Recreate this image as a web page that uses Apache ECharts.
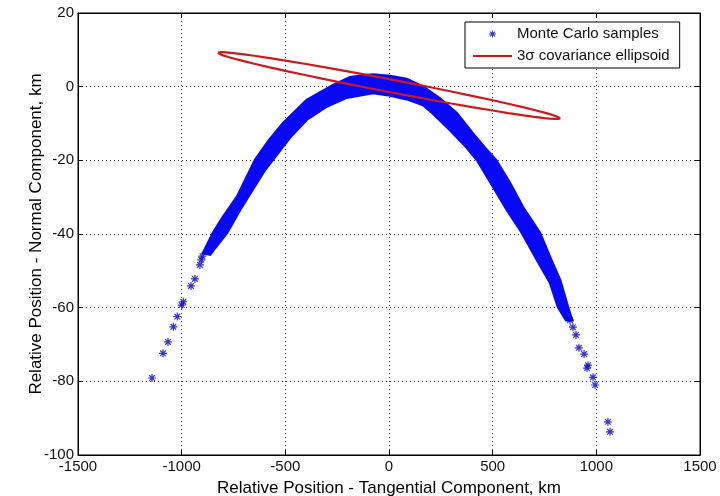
<!DOCTYPE html>
<html><head><meta charset="utf-8">
<script src="https://cdn.jsdelivr.net/npm/echarts@6/dist/echarts.min.js"></script>
<style>html,body{margin:0;padding:0;background:#fff}#c{width:720px;height:496px}</style>
</head><body><div id="c"></div>
<script>
// Tick values
const xTicks = [-1500, -1000, -500, 0, 500, 1000, 1500];
const yTicks = [-100, -80, -60, -40, -20, 0, 20];

// Dense Monte Carlo band: outer (upper) edge, left to right
const bandOuter = [
  [-897,-45.2],[-849,-39.7],[-801,-35.4],[-733,-29.9],[-646,-19.9],[-580,-14.6],
  [-511,-9.9],[-397,-3.6],[-270,0.45],[-188,2.6],[-120,3.1],[-77,3.3],[5,2.9],
  [85,2.1],[164,0.0],[246,-3.2],[327,-7.2],[405,-12.7],[460,-16.4],[516,-19.9],
  [584,-26.2],[646,-32.7],[728,-39.7],[777,-46.3],[825,-52.5],[863,-59.8],[883,-63.4]
];
// Dense band: inner (lower) edge, right to left
const bandInner = [
  [854,-63.4],[815,-59.8],[777,-53.3],[714,-47.1],[641,-39.7],[569,-33.5],[502,-27.2],
  [424,-19.9],[374,-16.5],[294,-11.8],[212,-7.3],[164,-5.0],[85,-3.4],[5,-2.4],
  [-77,-1.7],[-204,-3.0],[-300,-5.4],[-397,-9.0],[-477,-13.8],[-598,-22.6],
  [-719,-33.5],[-781,-39.7],[-830,-43.2],[-863,-45.6]
];
// Sparse individual samples in the tails
const samples = [
  [-1143,-79.1],[-1090,-72.4],[-1066,-69.3],[-1040,-65.2],[-1021,-62.4],[-1000,-59.3],
  [-992,-58.4],[-955,-54.1],[-936,-52.2],[-912,-48.4],[-905,-47.0],[-900,-46.0],
  [873,-63.4],[887,-65.3],[902,-67.4],[916,-70.9],[941,-72.6],[955,-76.4],[960,-75.6],
  [984,-78.9],[994,-81.0],[1056,-91.0],[1066,-93.7]
];
// 3-sigma ellipse outline: upper edge left->right, lower edge right->left
const ellipseUpper = [
  [-825,9.20],[-815,9.36],[-800,9.36],[-775,9.26],[-750,9.12],[-700,8.78],[-650,8.39],
  [-575,7.76],[-500,7.08],[-400,6.15],[-300,5.17],[-200,4.16],[-100,3.12],[0,2.05],
  [100,0.96],[200,-0.16],[300,-1.31],[400,-2.49],[500,-3.70],[575,-4.65],[650,-5.63],
  [700,-6.32],[750,-7.06],[775,-7.46],[800,-7.90],[815,-8.22],[825,-8.60]
];
const ellipseLower = [
  [815,-8.76],[800,-8.76],[775,-8.66],[750,-8.52],[700,-8.18],[650,-7.79],[575,-7.16],
  [500,-6.48],[400,-5.55],[300,-4.57],[200,-3.56],[100,-2.52],[0,-1.45],[-100,-0.36],
  [-200,0.76],[-300,1.91],[-400,3.09],[-500,4.30],[-575,5.25],[-650,6.23],[-700,6.92],
  [-750,7.66],[-775,8.06],[-800,8.50],[-815,8.82],[-825,9.20]
];

const STAR = 'path://M8.5,0L11.5,0L11.5,20L8.5,20Z M0,8.5L20,8.5L20,11.5L0,11.5Z M1.94,4.06L4.06,1.94L18.06,15.94L15.94,18.06Z M15.94,1.94L18.06,4.06L4.06,18.06L1.94,15.94Z';
const LINE_ICON = 'path://M0,0L40,0L40,2.2L0,2.2Z';
const FONT = "'Liberation Sans', Arial, Helvetica, sans-serif";
const BAND_BLUE = '#0808f4';
const STAR_BLUE = '#0000c0';
const RED = '#cc1a1a';

const chart = echarts.init(document.getElementById('c'));

const axisCommon = {
  axisLine: { show: true, onZero: false, lineStyle: { color: '#000', width: 1 } },
  axisTick: { show: true, inside: true, length: 5, lineStyle: { color: '#000' } }
};
const plain = v => String(v);

chart.setOption({
  animation: false,
  backgroundColor: '#fff',
  grid: { left: 78, right: 20, top: 13, bottom: 41, outerBoundsMode: 'none', containLabel: false,
          show: true, borderColor: '#000', borderWidth: 1, backgroundColor: '#fff' },
  legend: {
    left: 465, top: 22, orient: 'vertical',
    backgroundColor: '#fff', borderColor: '#000', borderWidth: 1,
    padding: [4, 10, 4, 8], itemGap: 6, itemWidth: 39, itemHeight: 7,
    selectedMode: false,
    textStyle: { fontFamily: FONT, fontSize: 15, color: '#111', lineHeight: 16 },
    data: [
      { name: 'Monte Carlo samples', icon: STAR, itemStyle: { color: STAR_BLUE } },
      { name: '3σ covariance ellipsoid', icon: LINE_ICON, itemStyle: { color: RED } }
    ]
  },
  xAxis: [{
    type: 'value', min: xTicks[0], max: xTicks[xTicks.length - 1], interval: xTicks[1] - xTicks[0],
    ...axisCommon,
    axisLabel: { fontFamily: FONT, fontSize: 15, color: '#111', margin: 4, formatter: plain },
    splitLine: { show: true, lineStyle: { color: '#333', type: [1, 3], width: 1 } },
    name: 'Relative Position - Tangential Component, km', nameLocation: 'middle', nameGap: 25,
    nameMoveOverlap: false,
    nameTextStyle: { fontFamily: FONT, fontSize: 17, color: '#000' }
  }, {
    type: 'value', position: 'top', min: xTicks[0], max: xTicks[xTicks.length - 1], interval: xTicks[1] - xTicks[0],
    ...axisCommon, axisLabel: { show: false }, splitLine: { show: false }
  }],
  yAxis: [{
    type: 'value', min: yTicks[0], max: yTicks[yTicks.length - 1], interval: yTicks[1] - yTicks[0],
    ...axisCommon,
    axisLabel: { fontFamily: FONT, fontSize: 15, color: '#111', margin: 4, formatter: plain },
    splitLine: { show: true, lineStyle: { color: '#333', type: [1, 3], width: 1 } },
    name: 'Relative Position - Normal Component, km', nameLocation: 'middle', nameGap: 33, nameRotate: 90,
    nameMoveOverlap: false,
    nameTextStyle: { fontFamily: FONT, fontSize: 17, color: '#000' }
  }, {
    type: 'value', position: 'right', min: yTicks[0], max: yTicks[yTicks.length - 1], interval: yTicks[1] - yTicks[0],
    ...axisCommon, axisLabel: { show: false }, splitLine: { show: false }
  }],
  series: [
    {
      type: 'custom', name: 'band', z: 2, clip: true,
      data: [[0, 0]],
      renderItem: function (params, api) {
        const pts = bandOuter.concat(bandInner).map(p => api.coord(p));
        return { type: 'polygon', shape: { points: pts }, style: { fill: BAND_BLUE, stroke: BAND_BLUE, lineWidth: 2.5 } };
      }
    },
    {
      type: 'scatter', name: 'Monte Carlo samples', z: 3,
      symbol: STAR, symbolSize: 8,
      itemStyle: { color: STAR_BLUE },
      data: samples
    },
    {
      type: 'line', name: '3σ covariance ellipsoid', z: 4,
      showSymbol: false, symbol: 'none',
      lineStyle: { color: RED, width: 2.2 },
      itemStyle: { color: RED },
      data: ellipseUpper.concat(ellipseLower)
    }
  ]
});
</script>
</body></html>
